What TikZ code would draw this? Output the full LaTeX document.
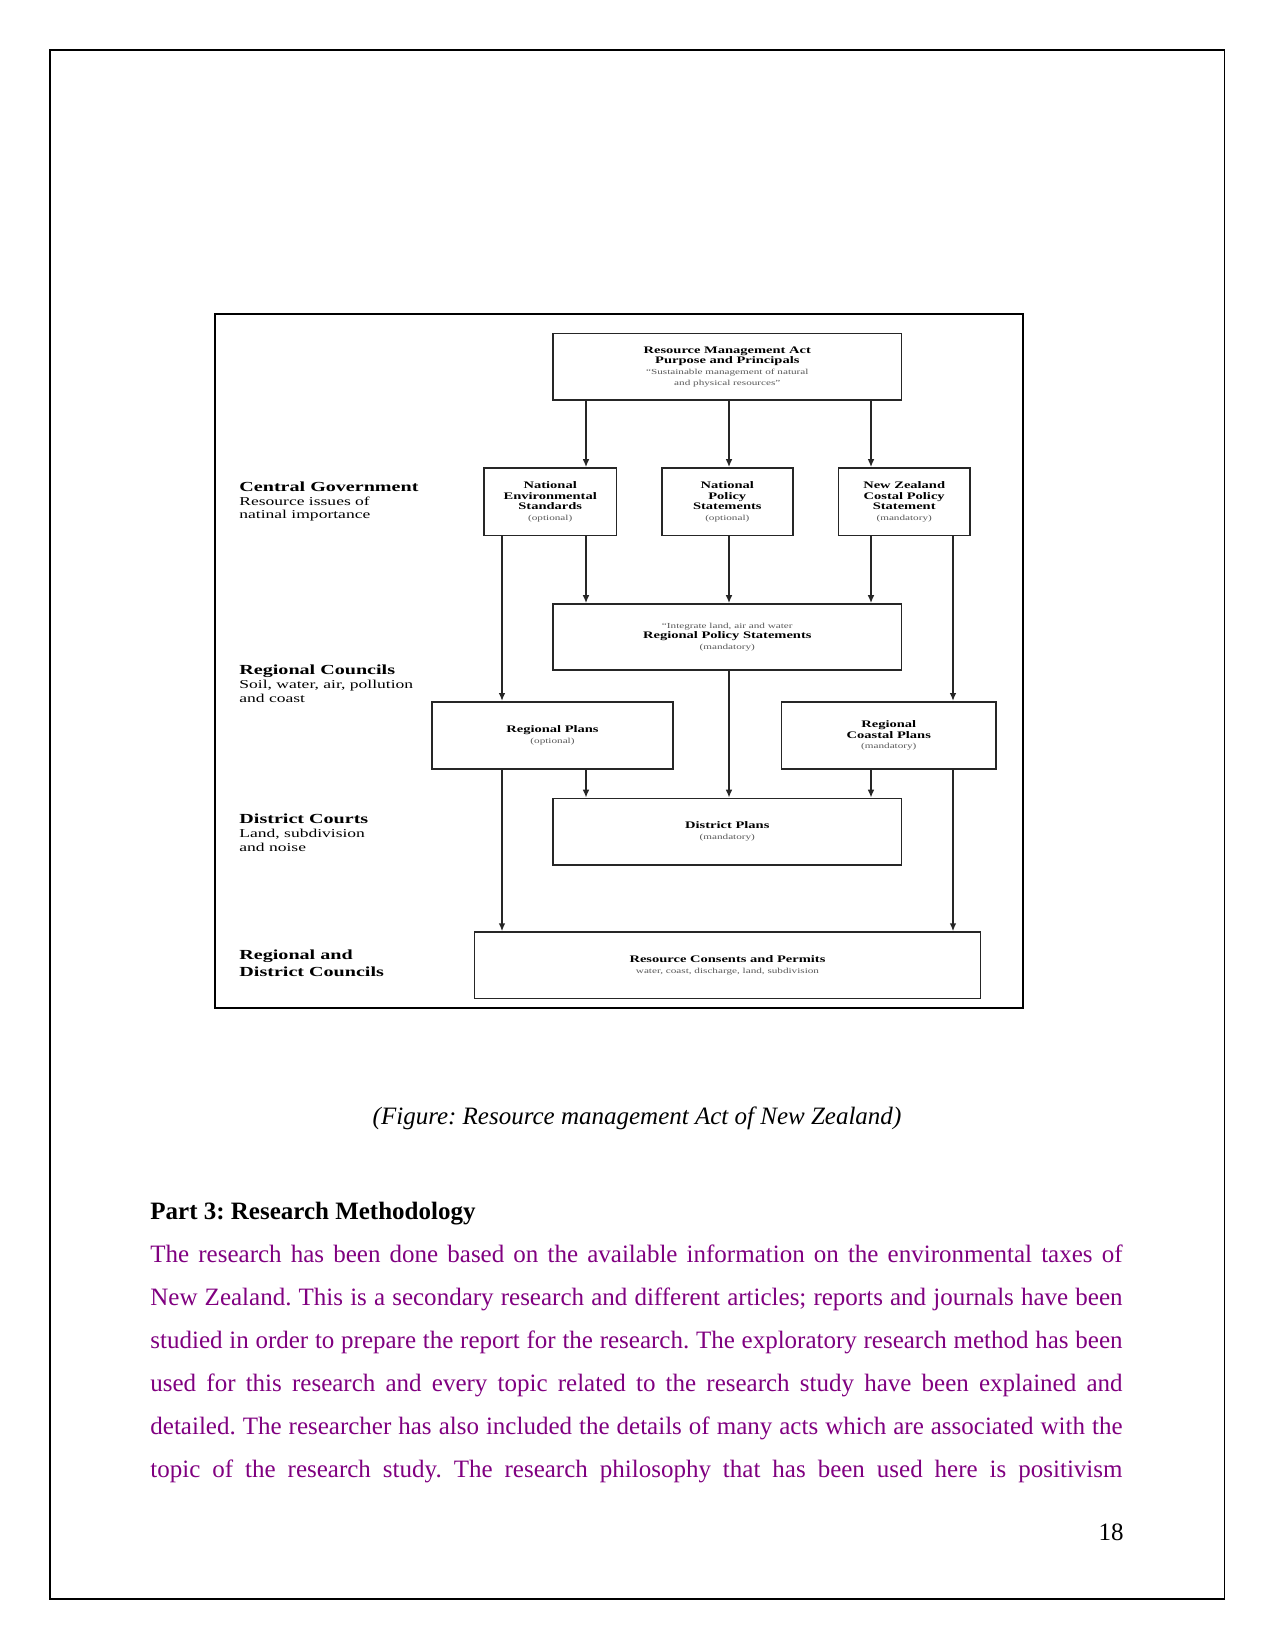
\documentclass[tikz,border=0pt]{standalone}
\usepackage{fontspec}
\setmainfont{Liberation Serif}
\newfontfamily\dg[FakeStretch=1.45]{Liberation Serif}
\usetikzlibrary{arrows.meta}
\definecolor{bodypurple}{RGB}{128,0,128}
\newcommand\subtx[1]{{\mdseries\color{black!65}\fontsize{3.7}{5.1}\selectfont #1}}
\newcommand\lbltitle[1]{{\bfseries\fontsize{6.65}{6.6}\selectfont #1}}
\frenchspacing
\begin{document}
\frenchspacing
\begin{tikzpicture}[x=0.48pt,y=-0.48pt,
  box/.style={draw=black!85, line width=0.8pt, fill=white, align=center, inner sep=1pt,
              font=\dg\fontsize{4.8}{5.1}\selectfont},
  conn/.style={line width=0.7pt, draw=black!85},
  arr/.style={conn, -{Latex[length=3.8pt,width=3.2pt]}},
  lbl/.style={anchor=west, align=left, inner sep=0pt, font=\dg\fontsize{5.8}{6.6}\selectfont},
  bodyline/.style={anchor=base west, inner sep=0pt, text=bodypurple, font=\fontsize{12}{14}\selectfont}]
\useasboundingbox (0,0) rectangle (1275,1650);
\draw[line width=0.5pt] (50,50) rectangle (1224,1599);
\draw[line width=0.85pt] (214.7,314) rectangle (1022.6,1008);

% boxes
\node[box, minimum width=167.3pt, minimum height=31.8pt] (rma) at (727.3,366.6)
  {\textbf{Resource Management Act}\\\textbf{Purpose and Principals}\\\subtx{“Sustainable management of natural}\\\subtx{and physical resources”}};
\node[box, minimum width=63.6pt, minimum height=32.4pt] (nes) at (550.2,501.7)
  {\textbf{National}\\\textbf{Environmental}\\\textbf{Standards}\\\subtx{(optional)}};
\node[box, minimum width=63pt, minimum height=32.4pt] (nps) at (727.3,501.7)
  {\textbf{National}\\\textbf{Policy}\\\textbf{Statements}\\\subtx{(optional)}};
\node[box, minimum width=63.2pt, minimum height=32.4pt] (nzc) at (904.2,501.7)
  {\textbf{New Zealand}\\\textbf{Costal Policy}\\\textbf{Statement}\\\subtx{(mandatory)}};
\node[box, minimum width=167.3pt, minimum height=31.7pt] (rps) at (727.3,637)
  {\subtx{“Integrate land, air and water}\\\textbf{Regional Policy Statements}\\\subtx{(mandatory)}};
\node[box, minimum width=115.7pt, minimum height=32.3pt] (rp) at (552.5,735.4)
  {\textbf{Regional Plans}\\\subtx{(optional)}};
\node[box, minimum width=102.9pt, minimum height=32.3pt] (rcp) at (888.8,735.4)
  {\textbf{Regional}\\\textbf{Coastal Plans}\\\subtx{(mandatory)}};
\node[box, minimum width=167.3pt, minimum height=31.8pt] (dp) at (727.3,831.6)
  {\textbf{District Plans}\\\subtx{(mandatory)}};
\node[box, minimum width=242.9pt, minimum height=31.8pt] (rc) at (727.5,965.2)
  {\textbf{Resource Consents and Permits}\\\subtx{water, coast, discharge, land, subdivision}};

% connector columns
\coordinate (xa) at (502,0);
\coordinate (xb) at (586,0);
\coordinate (xc) at (729,0);
\coordinate (xd) at (871,0);
\coordinate (xe) at (953,0);

\draw[arr] (rma.south -| xb) -- (nes.north -| xb);
\draw[arr] (rma.south -| xc) -- (nps.north -| xc);
\draw[arr] (rma.south -| xd) -- (nzc.north -| xd);
\draw[arr] (nes.south -| xa) -- (rp.north -| xa);
\draw[arr] (nes.south -| xb) -- (rps.north -| xb);
\draw[arr] (nps.south -| xc) -- (rps.north -| xc);
\draw[arr] (nzc.south -| xd) -- (rps.north -| xd);
\draw[arr] (nzc.south -| xe) -- (rcp.north -| xe);
\draw[arr] (rps.south -| xc) -- (dp.north -| xc);
\draw[arr] (rp.south -| xb) -- (dp.north -| xb);
\draw[arr] (rcp.south -| xd) -- (dp.north -| xd);
\draw[arr] (rp.south -| xa) -- (rc.north -| xa);
\draw[arr] (rcp.south -| xe) -- (rc.north -| xe);

% left labels
\node[lbl] (cg) at (239,501.5) {\lbltitle{Central Government}\\Resource issues of\\natinal importance};
\node[lbl] (rgc) at (239,683.5) {\lbltitle{Regional Councils}\\Soil, water, air, pollution\\and coast};
\node[lbl] (dc) at (239,832.5) {\lbltitle{District Courts}\\Land, subdivision\\and noise};
\node[lbl, font=\dg\bfseries\fontsize{6.65}{8}\selectfont] (rdc) at (239,963) {Regional and\\District Councils};

% page text
\node[anchor=base, inner sep=0pt, font=\itshape\fontsize{12}{14}\selectfont] (cap) at (637,1124)
  {(Figure: Resource management Act of New Zealand)};
\node[anchor=base west, inner sep=0pt, font=\bfseries\fontsize{12}{14}\selectfont] (part) at (150,1219)
  {Part 3: Research Methodology};
\node[bodyline] (l1) at (150,1262) {\makebox[466.6pt][s]{The research has been done based on the available information on the environmental taxes of}};
\node[bodyline] (l2) at (150,1305) {\makebox[466.6pt][s]{New Zealand. This is a secondary research and different articles; reports and journals have been}};
\node[bodyline] (l3) at (150,1348) {\makebox[466.6pt][s]{studied in order to prepare the report for the research. The exploratory research method has been}};
\node[bodyline] (l4) at (150,1391) {\makebox[466.6pt][s]{used for this research and every topic related to the research study have been explained and}};
\node[bodyline] (l5) at (150,1434) {\makebox[466.6pt][s]{detailed. The researcher has also included the details of many acts which are associated with the}};
\node[bodyline] (l6) at (150,1477) {\makebox[466.6pt][s]{topic of the research study. The research philosophy that has been used here is positivism}};
\node[anchor=base east, inner sep=0pt, font=\fontsize{12}{14}\selectfont] (pg) at (1124,1540) {18};
\end{tikzpicture}
\end{document}
